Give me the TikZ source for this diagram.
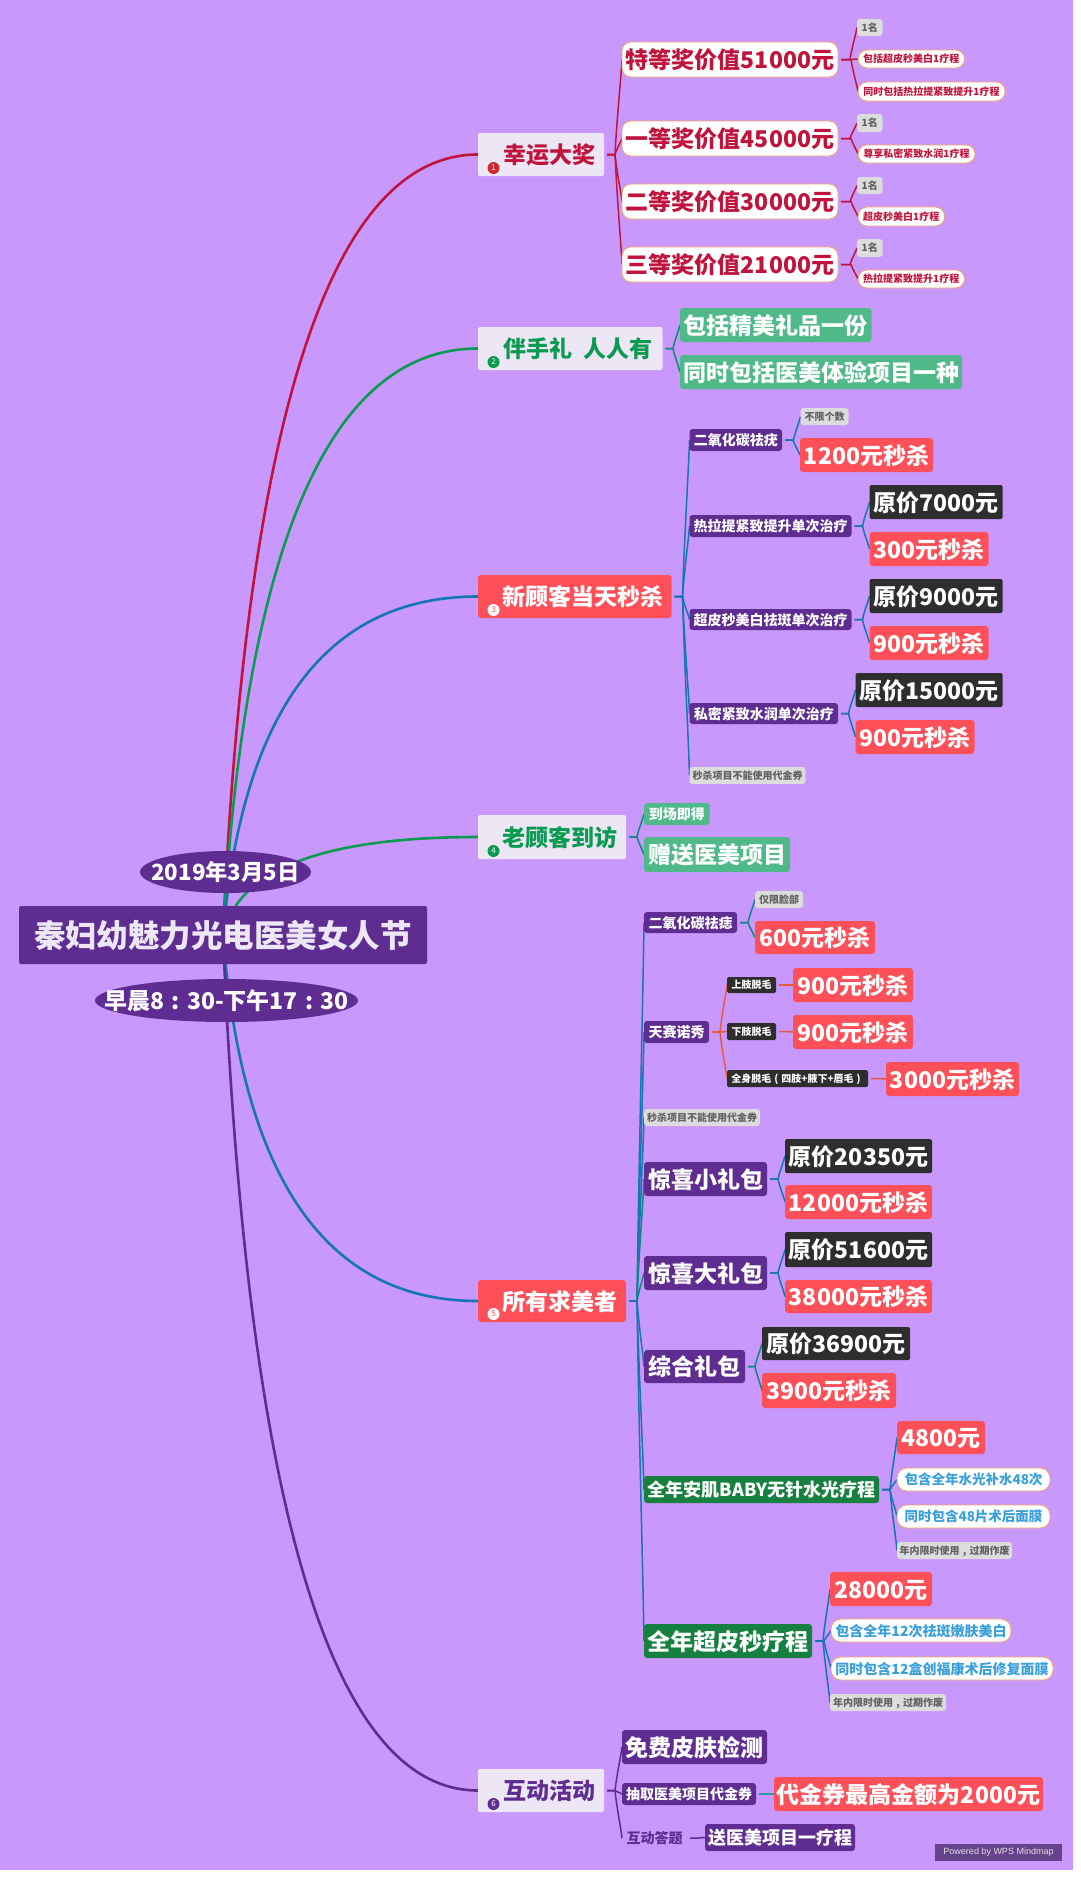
\documentclass[tikz,border=0pt]{standalone}
\usepackage{fontspec}
\setmainfont{Noto Sans CJK SC}
\newfontfamily\latinf{Liberation Sans}
\usetikzlibrary{calc,shapes.geometric}
\pgfdeclarelayer{bg}
\pgfsetlayers{bg,main}
\definecolor{bgc}{HTML}{C998FD}
\definecolor{cred}{HTML}{FF4F58}
\definecolor{cdark}{HTML}{2E2E2E}
\definecolor{cpur}{HTML}{5F2D91}
\definecolor{cgrn}{HTML}{15803F}
\definecolor{cteal}{HTML}{4FB98A}
\definecolor{ctag}{HTML}{DCDCDC}
\definecolor{clight}{HTML}{ECE6F5}
\definecolor{cprize}{HTML}{C0143C}
\definecolor{cgt}{HTML}{0A9A50}
\definecolor{cblue}{HTML}{1675B5}
\definecolor{csky}{HTML}{3AA0DC}
\definecolor{corg}{HTML}{F4A46A}
\definecolor{cored}{HTML}{E8593A}
\newcommand\cen[1]{\makebox[1em][c]{#1}}
\tikzset{
 fs/.style={font=\fontsize{#1}{#1}\selectfont\bfseries,text height=0.9*#1pt,text depth=0.11*#1pt},
 base/.style={inner sep=0pt,outer sep=0pt,align=center},
 redbox/.style={base,fill=cred,text=white,rounded corners=3pt},
 darkbox/.style={base,fill=cdark,text=white,rounded corners=1.5pt},
 purplebox/.style={base,fill=cpur,text=white,rounded corners=3pt},
 greenbox/.style={base,fill=cgrn,text=white,rounded corners=3pt},
 tealbox/.style={base,fill=cteal,text=white,rounded corners=3pt},
 graytag/.style={base,fill=ctag,text=black!62,rounded corners=3pt},
 lightbox/.style={base,fill=clight,rounded corners=2pt},
 pillred/.style={base,fill=white,draw=corg,line width=.8pt,text=cprize,rounded corners=9pt},
 pillblue/.style={base,fill=white,draw=corg,line width=.8pt,text=csky,rounded corners=10pt},
 badge/.style={circle,inner sep=0pt,outer sep=0pt,minimum size=12pt,font=\fontsize{8}{8}\selectfont},
 plainlabel/.style={base,text=cpur},
 rootline/.style={line width=2.6pt,line cap=round},
 lv2/.style={line width=1.5pt},
}
\newcommand\bx[7]{\node[#2,minimum width={(#5-#3)*1pt},minimum height={(#6-#4)*1pt}] (#1) at ({(#3+#5)/2},{(#4+#6)/2}) {#7};}
\newcommand\lnk[3]{\draw[lv2,#3] let \p1=(#1.east),\p2=(#2.west) in ({\x1+3pt},\y1) -- ({\x2-7pt},\y1) .. controls ({\x2-5pt},{\y1+.4*(\y2-\y1)}) and ({\x2-1pt},{\y1+.8*(\y2-\y1)}) .. (\x2,\y2);}
\newcommand\rl[3]{\draw[rootline,#2] let \p0=(root.center),\p1=(#1.west) in (\p0) .. controls ({\x0+2/3*(#3pt-\x0)},{\y0+2/3*(\y1-\y0)}) and ({\x1+2/3*(#3pt-\x1)},\y1) .. (\p1);}
\begin{document}
\begin{tikzpicture}[x=1pt,y=-1pt]
\useasboundingbox (0,0) rectangle (1080,1882);
\begin{pgfonlayer}{bg}
\fill[white] (0,0) rectangle (1080,1882);
\fill[bgc] (0,0) rectangle (1073,1870);
\end{pgfonlayer}
% central
\bx{root}{purplebox,fs=31.5,text=clight,rounded corners=2pt}{19}{906}{427}{964}{秦妇幼魅力光电医美女人节}
\node[ellipse,base,fill=cpur,text=white,fs=22.3,minimum width=171pt,minimum height=42pt] (date) at (225.5,872) {\makebox[0pt][c]{2019年3月5日}};
\node[ellipse,base,fill=cpur,text=white,fs=23,minimum width=263pt,minimum height=43pt] (time) at (226.5,1000.5) {\makebox[0pt][c]{早晨8\cen{:}30-下午17\cen{:}30}};
% level 1
\bx{a}{lightbox,fs=23,text=cprize}{478}{133}{604}{176}{\hspace{16pt}幸运大奖}
\bx{b}{lightbox,fs=23,text=cgt}{478}{327}{662.5}{370}{\hspace{16pt}伴手礼\ \ 人人有}
\bx{c}{redbox,fs=23}{478}{575}{671.5}{618}{\hspace{16pt}新顾客当天秒杀}
\bx{d}{lightbox,fs=23,text=cgt}{478}{815}{626}{859}{\hspace{16pt}老顾客到访}
\bx{e}{redbox,fs=23}{478}{1280}{626}{1322}{\hspace{16pt}所有求美者}
\bx{f}{lightbox,fs=23,text=cpur}{478}{1769}{604}{1812}{\hspace{16pt}互动活动}
\node[badge,fill=cprize!80!orange,text=white] (ba) at (493.5,168) {1};
\node[badge,fill=cgt,text=white] (bb) at (493.5,362) {2};
\node[badge,fill=white,text=cred] (bc) at (493.5,610) {3};
\node[badge,fill=cgt,text=white] (bd) at (493.5,851) {4};
\node[badge,fill=white,text=cred] (be) at (493.5,1314) {5};
\node[badge,fill=cpur,text=white] (bf) at (493.5,1804) {6};
% prizes
\bx{a1}{pillred,fs=23}{622}{42}{838}{77}{特等奖价值51000元}
\bx{a2}{pillred,fs=23}{622}{121}{838}{156}{一等奖价值45000元}
\bx{a3}{pillred,fs=23}{622}{184}{838}{219}{二等奖价值30000元}
\bx{a4}{pillred,fs=23}{622}{247}{838}{282}{三等奖价值21000元}
\bx{a11}{graytag,fs=10}{857}{19}{882.5}{36}{1名}
\bx{a12}{pillred,fs=10}{858}{50}{964.5}{68}{包括超皮秒美白1疗程}
\bx{a13}{pillred,fs=10}{858}{82}{1005}{101}{同时包括热拉提紧致提升1疗程}
\bx{a21}{graytag,fs=10}{857}{114}{882.5}{132}{1名}
\bx{a22}{pillred,fs=10}{858}{145}{975}{163}{尊享私密紧致水润1疗程}
\bx{a31}{graytag,fs=10}{857}{177}{882.5}{194}{1名}
\bx{a32}{pillred,fs=10}{858}{207}{944.5}{226}{超皮秒美白1疗程}
\bx{a41}{graytag,fs=10}{857}{239}{882.5}{257}{1名}
\bx{a42}{pillred,fs=10}{858}{270}{964.5}{288}{热拉提紧致提升1疗程}
% gift
\bx{b1}{tealbox,fs=23}{680}{308}{871.5}{342}{包括精美礼品一份}
\bx{b2}{tealbox,fs=23}{680}{355}{962}{389}{同时包括医美体验项目一种}
% new customers
\bx{c1}{purplebox,fs=14}{689.5}{429}{782}{451}{二氧化碳祛疣}
\bx{c11}{graytag,fs=10}{800.5}{408}{848.5}{425}{不限个数}
\bx{c12}{redbox,fs=23}{800}{438}{933}{472}{1200元秒杀}
\bx{c2}{purplebox,fs=14}{689.5}{515}{851.5}{537}{热拉提紧致提升单次治疗}
\bx{c21}{darkbox,fs=23}{869.5}{485}{1002.5}{519}{原价7000元}
\bx{c22}{redbox,fs=23}{869.5}{532}{988.5}{566}{300元秒杀}
\bx{c3}{purplebox,fs=14}{689.5}{609}{851.5}{630}{超皮秒美白祛斑单次治疗}
\bx{c31}{darkbox,fs=23}{869.5}{579}{1002.5}{613}{原价9000元}
\bx{c32}{redbox,fs=23}{869.5}{626}{988.5}{660}{900元秒杀}
\bx{c4}{purplebox,fs=14}{689.5}{703}{838}{724}{私密紧致水润单次治疗}
\bx{c41}{darkbox,fs=23}{855.5}{673}{1002.5}{707}{原价15000元}
\bx{c42}{redbox,fs=23}{855.5}{720}{974.5}{754}{900元秒杀}
\bx{c5}{graytag,fs=10}{689.5}{767}{805.5}{784}{秒杀项目不能使用代金券}
% old customers
\bx{d1}{tealbox,fs=14}{644}{803}{709.5}{825}{到场即得}
\bx{d2}{tealbox,fs=23}{644}{837}{790}{872}{赠送医美项目}
% all
\bx{e1}{purplebox,fs=14}{644}{912}{737}{933}{二氧化碳祛痣}
\bx{e11}{graytag,fs=10}{755}{891}{803}{908}{仅限脸部}
\bx{e12}{redbox,fs=23}{755}{921}{875}{954}{600元秒杀}
\bx{e2}{purplebox,fs=14}{644}{1021}{709}{1043}{天赛诺秀}
\bx{e21}{darkbox,fs=10}{727}{977}{776}{993}{上肢脱毛}
\bx{e22}{darkbox,fs=10}{727}{1023}{776}{1040}{下肢脱毛}
\bx{e23}{darkbox,fs=10}{727}{1070}{868}{1087}{全身脱毛\cen{(}四肢+腋下+唇毛\cen{)}}
\bx{e211}{redbox,fs=23}{793}{968}{913}{1002}{900元秒杀}
\bx{e221}{redbox,fs=23}{793}{1015}{913}{1049}{900元秒杀}
\bx{e231}{redbox,fs=23}{886}{1062}{1019}{1096}{3000元秒杀}
\bx{e3}{graytag,fs=10}{644}{1109}{760}{1126}{秒杀项目不能使用代金券}
\bx{e4}{purplebox,fs=23}{644}{1162}{767}{1196}{惊喜小礼包}
\bx{e41}{darkbox,fs=23}{785}{1139}{932}{1173}{原价20350元}
\bx{e42}{redbox,fs=23}{785}{1185}{932}{1219}{12000元秒杀}
\bx{e5}{purplebox,fs=23}{644}{1256}{767}{1290}{惊喜大礼包}
\bx{e51}{darkbox,fs=23}{785}{1232}{932}{1267}{原价51600元}
\bx{e52}{redbox,fs=23}{785}{1280}{932}{1313}{38000元秒杀}
\bx{e6}{purplebox,fs=23}{644}{1350}{745}{1383}{综合礼包}
\bx{e61}{darkbox,fs=23}{762}{1327}{910}{1360}{原价36900元}
\bx{e62}{redbox,fs=23}{762}{1373}{896}{1408}{3900元秒杀}
\bx{e7}{greenbox,fs=18}{644}{1476}{879}{1503}{全年安肌BABY无针水光疗程}
\bx{e71}{redbox,fs=23}{897}{1421}{985}{1454}{4800元}
\bx{e72}{pillblue,fs=13.5}{897}{1468}{1050}{1491}{包含全年水光补水48次}
\bx{e73}{pillblue,fs=13.5}{897}{1505}{1050}{1528}{同时包含48片术后面膜}
\bx{e74}{graytag,fs=10}{897}{1542}{1012}{1559}{年内限时使用\cen{,}过期作废}
\bx{e8}{greenbox,fs=23}{644}{1624}{812}{1658}{全年超皮秒疗程}
\bx{e81}{redbox,fs=23}{830}{1572}{932}{1606}{28000元}
\bx{e82}{pillblue,fs=14}{831}{1619}{1011}{1642}{包含全年12次祛斑嫩肤美白}
\bx{e83}{pillblue,fs=14}{831}{1657}{1053}{1680}{同时包含12盒创福康术后修复面膜}
\bx{e84}{graytag,fs=10}{830}{1694}{946}{1711}{年内限时使用\cen{,}过期作废}
% activities
\bx{f1}{purplebox,fs=23}{622}{1730}{767}{1764}{免费皮肤检测}
\bx{f2}{purplebox,fs=14}{622}{1783}{756}{1805}{抽取医美项目代金券}
\bx{f21}{redbox,fs=23}{774}{1777}{1043}{1811}{代金券最高金额为2000元}
\bx{f3}{plainlabel,fs=14}{622}{1827}{687}{1849}{互动答题}
\bx{f31}{purplebox,fs=18}{705}{1824}{855}{1851}{送医美项目一疗程}
\node[base,fill=cpur!75!gray,text=black!12,font=\latinf\fontsize{9}{9}\selectfont,minimum width=127pt,minimum height=17pt] (wm) at (998.5,1852.5) {Powered by WPS Mindmap};
\begin{pgfonlayer}{bg}
\rl{a}{cprize}{258}
\rl{b}{cgt}{256}
\rl{c}{cblue}{252}
\rl{d}{cgt}{245}
\rl{e}{cblue}{251}
\rl{f}{cpur}{258}
\lnk{a}{a1}{cprize}\lnk{a}{a2}{cprize}\lnk{a}{a3}{cprize}\lnk{a}{a4}{cprize}
\lnk{a1}{a11}{cprize}\lnk{a1}{a12}{cprize}\lnk{a1}{a13}{cprize}
\lnk{a2}{a21}{cprize}\lnk{a2}{a22}{cprize}
\lnk{a3}{a31}{cprize}\lnk{a3}{a32}{cprize}
\lnk{a4}{a41}{cprize}\lnk{a4}{a42}{cprize}
\lnk{b}{b1}{cgt!60!cblue}\lnk{b}{b2}{cgt!60!cblue}
\lnk{c}{c1}{cblue}\lnk{c}{c2}{cblue}\lnk{c}{c3}{cblue}\lnk{c}{c4}{cblue}\lnk{c}{c5}{cblue}
\lnk{c1}{c11}{cblue}\lnk{c1}{c12}{cblue}
\lnk{c2}{c21}{cblue}\lnk{c2}{c22}{cblue}
\lnk{c3}{c31}{cblue}\lnk{c3}{c32}{cblue}
\lnk{c4}{c41}{cblue}\lnk{c4}{c42}{cblue}
\lnk{d}{d1}{cgt!50!cblue}\lnk{d}{d2}{cgt!50!cblue}
\lnk{e}{e1}{cblue}\lnk{e}{e2}{cblue}\lnk{e}{e3}{cblue}\lnk{e}{e4}{cgt!50!cblue}\lnk{e}{e5}{cgt!50!cblue}
\lnk{e}{e6}{cblue}\lnk{e}{e7}{cblue}\lnk{e}{e8}{cblue}
\lnk{e1}{e11}{cgt!50!cblue}\lnk{e1}{e12}{cgt!50!cblue}
\lnk{e2}{e21}{cored}\lnk{e2}{e22}{cored}\lnk{e2}{e23}{cored}
\lnk{e21}{e211}{cored}\lnk{e22}{e221}{cored}\lnk{e23}{e231}{cored}
\lnk{e4}{e41}{cblue}\lnk{e4}{e42}{cblue}
\lnk{e5}{e51}{cblue}\lnk{e5}{e52}{cblue}
\lnk{e6}{e61}{cgt!50!cblue}\lnk{e6}{e62}{cgt!50!cblue}
\lnk{e7}{e71}{cblue}\lnk{e7}{e72}{cblue}\lnk{e7}{e73}{cblue}\lnk{e7}{e74}{cblue}
\lnk{e8}{e81}{cblue}\lnk{e8}{e82}{cblue}\lnk{e8}{e83}{cblue}\lnk{e8}{e84}{cblue}
\lnk{f}{f1}{cpur}\lnk{f}{f2}{cpur}\lnk{f}{f3}{cpur}
\lnk{f2}{f21}{cblue!50!cteal}\lnk{f3}{f31}{cpur}
\end{pgfonlayer}
\end{tikzpicture}
\end{document}
